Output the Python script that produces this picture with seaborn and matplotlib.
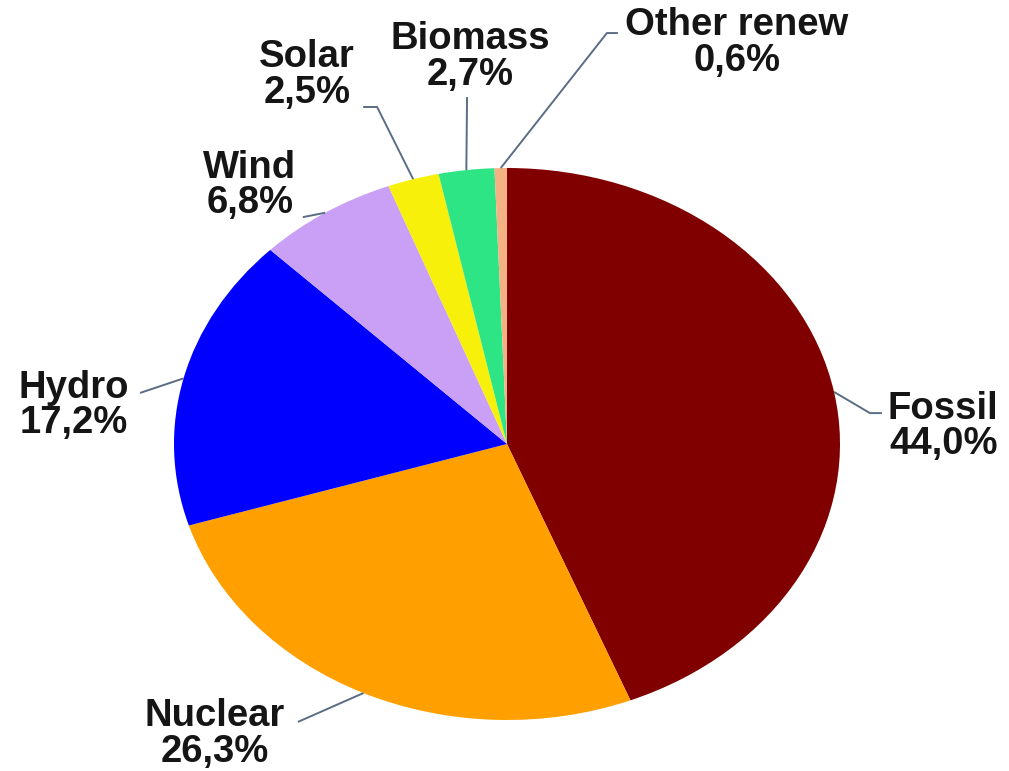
import numpy as np
import matplotlib
matplotlib.use("Agg")
import matplotlib.pyplot as plt
import seaborn as sns

# Electricity generation mix (%)
sources = ["Fossil", "Nuclear", "Hydro", "Wind", "Solar", "Biomass", "Other renew"]
shares = [44.0, 26.3, 17.2, 6.8, 2.5, 2.7, 0.6]
share_labels = ["44,0%", "26,3%", "17,2%", "6,8%", "2,5%", "2,7%", "0,6%"]

colors = ["#800000", "#ffa000", "#0000ff", "#c9a0f5", "#f7f00a", "#2ee585", "#f4b183"]

# Label layout in pie units (x, y of the text centre; leader elbow and end)
text_pos = [(1.31, 0.062), (-0.877, -1.051), (-1.300, 0.138), (-0.772, 0.938),
            (-0.601, 1.337), (-0.111, 1.402), (0.691, 1.453)]
elbow_pos = [(1.090, 0.112), (-0.628, -1.007), (-1.102, 0.185), (-0.613, 0.822),
             (-0.390, 1.221), (-0.120, 1.257), (0.300, 1.489)]
end_pos = [(1.126, 0.112), (-0.628, -1.007), (-1.102, 0.185), (-0.613, 0.822),
           (-0.432, 1.221), (-0.120, 1.257), (0.333, 1.489)]

sns.set_theme(style="white")
plt.rcParams["font.family"] = ["Liberation Sans", "DejaVu Sans"]

fig = plt.figure(figsize=(10.09, 7.71), dpi=100)
W, H = 1009, 771
cx, cy, rx, ry = 507, 444, 333, 276
ax = fig.add_axes([(cx - rx) / W, (H - cy - ry) / H, 2 * rx / W, 2 * ry / H])

wedges, _ = ax.pie(shares, colors=colors, startangle=90, counterclock=False,
                   radius=1.0, wedgeprops=dict(linewidth=0))
ax.set_aspect("auto")
ax.set_xlim(-1, 1)
ax.set_ylim(-1, 1)
ax.axis("off")

# leader lines from each wedge's mid-angle to its label
cum = np.cumsum([0] + shares[:-1])
line_color = "#5a6d84"
for i, (src, val) in enumerate(zip(sources, shares)):
    mid = 90 - (cum[i] + val / 2) * 360 / sum(shares)
    sx, sy = np.cos(np.radians(mid)), np.sin(np.radians(mid))
    ex, ey = elbow_pos[i]
    fx, fy = end_pos[i]
    ax.plot([sx, ex, fx], [sy, ey, fy], color=line_color, lw=1.4,
            clip_on=False, solid_capstyle="butt")
    tx, ty = text_pos[i]
    ax.text(tx, ty, f"{src}\n{share_labels[i]}", ha="center", va="center",
            fontsize=27.5, fontweight="bold", color="#151515", linespacing=0.97,
            multialignment="center", clip_on=False)

fig.savefig("out.png", dpi=100, facecolor="white")
